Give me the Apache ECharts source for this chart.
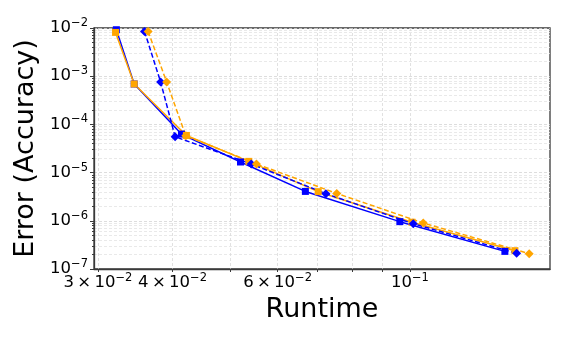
<!DOCTYPE html>
<html>
<head>
<meta charset="utf-8">
<script src="https://cdn.jsdelivr.net/npm/echarts@6/dist/echarts.min.js"></script>
<style>
  html, body { margin: 0; padding: 0; background: #fff; }
  #chart { width: 571px; height: 343px; }
</style>
</head>
<body>
<div id="chart"></div>
<script>
// runtime (s) and error for the four runs
const blueSolidRuntime = [0.0322, 0.0345, 0.0414, 0.0520, 0.0668, 0.0962, 0.1443];
const blueSolidError = [9.2e-3, 6.9e-4, 6.3e-5, 1.66e-5, 4.07e-6, 9.6e-7, 2.32e-7];
const orangeSolidRuntime = [0.0321, 0.0345, 0.0422, 0.0537, 0.0702, 0.1008, 0.1500];
const orangeSolidError = [8.1e-3, 6.9e-4, 5.9e-5, 1.71e-5, 4.02e-6, 9.35e-7, 2.40e-7];
const blueDashedRuntime = [0.0359, 0.0382, 0.0404, 0.0542, 0.0723, 0.1013, 0.1510];
const blueDashedError = [8.5e-3, 7.6e-4, 5.55e-5, 1.51e-5, 3.65e-6, 8.7e-7, 2.11e-7];
const orangeDashedRuntime = [0.0364, 0.0391, 0.0421, 0.0553, 0.0754, 0.1053, 0.1585];
const orangeDashedError = [8.5e-3, 7.6e-4, 5.8e-5, 1.51e-5, 3.70e-6, 9.0e-7, 2.08e-7];

// tick positions
const xTicks = [0.03, 0.04, 0.05, 0.06, 0.07, 0.08, 0.09, 0.1];
const xLabels = [0.03, 0.04, 0.06, 0.1];
const yMinorFactors = [2, 3, 4, 5, 6, 7, 8, 9];
const yDecades = [-7, -6, -5, -4, -3];

const lg = Math.log10;
let yMinor = [];
yDecades.forEach(function (d) {
  yMinorFactors.forEach(function (f) { yMinor.push(lg(f) + d); });
});

function toPoints(xs, ys) {
  return xs.map(function (x, i) { return [lg(x), lg(ys[i])]; });
}

function sciLabel(v) {
  let raw = Math.pow(10, v);
  let e = Math.floor(v + 1e-9);
  let m = Math.round(raw / Math.pow(10, e));
  let exp = '\u2212' + Math.abs(e);
  if (m === 1) return '{b|10}{s|' + exp + '}';
  return '{b|' + m + '\u2009\u00d7\u200910}{s|' + exp + '}';
}

const labelRich = {
  b: { fontSize: 16.5, fontFamily: 'DejaVu Sans', color: '#000', lineHeight: 22 },
  s: { fontSize: 11.5, fontFamily: 'DejaVu Sans', color: '#000', lineHeight: 12, verticalAlign: 'top' }
};

const BLUE = '#0000ff';
const ORANGE = '#ffa500';
const AXIS = '#3a3a3a';

function line(name, data, color, dashed, symbol, size) {
  return {
    name: name,
    type: 'line',
    data: data,
    symbol: symbol,
    symbolSize: size,
    showSymbol: true,
    animation: false,
    lineStyle: { color: color, width: 1.5, type: dashed ? [5, 2.5] : 'solid' },
    itemStyle: { color: color }
  };
}

let myChart = echarts.init(document.getElementById('chart'));
myChart.setOption({
  backgroundColor: '#fff',
  animation: false,
  grid: {
    left: 94, right: 21, top: 28, bottom: 74,
    show: true, borderColor: AXIS, borderWidth: 1.3, backgroundColor: 'transparent'
  },
  xAxis: {
    type: 'value',
    min: -1.5296,
    max: -0.7651,
    name: 'Runtime',
    nameLocation: 'middle',
    nameGap: 24,
    nameTextStyle: { fontSize: 27, fontFamily: 'DejaVu Sans', color: '#000' },
    axisLine: { show: true, lineStyle: { color: AXIS, width: 1.3 } },
    axisTick: { show: true, length: 3, customValues: xTicks.map(lg), lineStyle: { color: AXIS } },
    axisLabel: {
      customValues: xLabels.map(lg),
      formatter: sciLabel,
      rich: labelRich,
      margin: 3
    },
    splitLine: {
      show: true,
      customValues: xTicks.map(lg),
      lineStyle: { color: '#d9d9d9', type: [3, 2], width: 0.8 }
    }
  },
  yAxis: [
    {
      type: 'value',
      min: -7,
      max: -2,
      interval: 1,
      name: 'Error (Accuracy)',
      nameLocation: 'middle',
      nameRotate: 90,
      nameGap: 48,
      nameTextStyle: { fontSize: 27, fontFamily: 'DejaVu Sans', color: '#000' },
      axisLine: { show: true, lineStyle: { color: AXIS, width: 1.3 } },
      axisTick: { show: true, length: 4, lineStyle: { color: AXIS } },
      axisLabel: { formatter: sciLabel, rich: labelRich, margin: 6 },
      splitLine: { show: true, lineStyle: { color: '#d4d4d4', type: [3, 2], width: 0.8 } }
    },
    {
      type: 'value',
      min: -7,
      max: -2,
      position: 'left',
      axisLine: { show: false },
      axisTick: { show: true, length: 2, customValues: yMinor, lineStyle: { color: AXIS } },
      axisLabel: { show: false },
      splitLine: {
        show: true,
        customValues: yMinor,
        lineStyle: { color: '#e3e3e3', type: [3, 2], width: 0.8 }
      }
    }
  ],
  series: [
    line('blue solid', toPoints(blueSolidRuntime, blueSolidError), BLUE, false, 'rect', 7),
    line('orange solid', toPoints(orangeSolidRuntime, orangeSolidError), ORANGE, false, 'rect', 7),
    line('blue dashed', toPoints(blueDashedRuntime, blueDashedError), BLUE, true, 'diamond', 9),
    line('orange dashed', toPoints(orangeDashedRuntime, orangeDashedError), ORANGE, true, 'diamond', 9)
  ]
});
</script>
</body>
</html>
